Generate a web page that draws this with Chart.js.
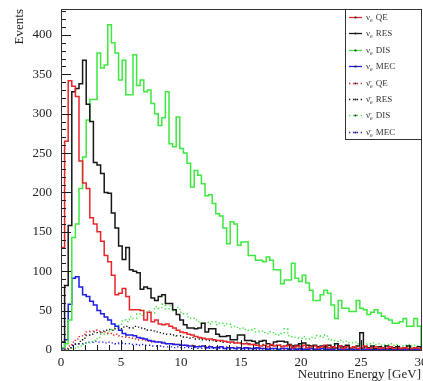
<!DOCTYPE html>
<html>
<head>
<meta charset="utf-8">
<script src="https://cdn.jsdelivr.net/npm/chart.js@4.4.1/dist/chart.umd.min.js"></script>
<style>
  html, body { margin: 0; padding: 0; background: #fff; }
</style>
</head>
<body>
<canvas id="energyChart" width="423" height="381"></canvas>
<script>
// histogram binning: 100 bins of 0.3 GeV from 0 to 30
const nBins = 100;
const binWidth = 0.3;
const xTicks = [0, 5, 10, 15, 20, 25, 30];
const yTicks = [0, 50, 100, 150, 200, 250, 300, 350, 400];
const modes = ['QE', 'RES', 'DIS', 'MEC'];

// nu_e
const nueQE = [
  130, 265, 342, 335, 322, 240, 212, 205, 168, 160,
  150, 138, 120, 112, 95, 70, 72, 78, 68, 51,
  51, 51, 50, 38, 48, 36, 38, 33, 32, 33,
  30, 28, 25, 23, 22, 20, 19, 17, 16, 15,
  14, 14, 13, 12, 12, 11, 10, 10, 9, 9,
  8, 8, 7, 7, 6, 5, 6, 4, 7, 5,
  6, 4, 5, 6, 3, 5, 4, 6, 3, 4,
  5, 3, 4, 6, 3, 4, 3, 5, 2, 4,
  3, 4, 2, 3, 5, 2, 3, 4, 2, 3,
  2, 4, 2, 3, 2, 3, 2, 2, 3, 2
];
const nueRES = [
  10, 82, 158, 328, 332, 338, 368, 312, 290, 238,
  235, 224, 200, 199, 174, 155, 132, 115, 130, 102,
  100, 98, 77, 80, 78, 66, 63, 68, 70, 59,
  59, 51, 45, 38, 32, 28, 28, 27, 28, 34,
  23, 27, 27, 20, 17, 17, 18, 13, 13, 19,
  19, 12, 12, 11, 9, 11, 12, 8, 6, 10,
  11, 11, 10, 7, 5, 6, 8, 9, 6, 5,
  6, 4, 5, 4, 6, 3, 8, 5, 4, 6,
  3, 4, 5, 22, 4, 3, 5, 2, 4, 3,
  5, 2, 3, 4, 2, 3, 5, 2, 3, 4
];
const nueDIS = [
  3, 8, 38, 143, 160, 205, 245, 292, 318, 318,
  377, 358, 362, 413, 390, 377, 343, 368, 324, 324,
  375, 336, 343, 328, 330, 313, 300, 285, 295, 328,
  262, 258, 296, 256, 250, 237, 207, 228, 222, 211,
  196, 197, 186, 173, 170, 155, 135, 163, 160, 133,
  137, 137, 120, 120, 114, 114, 112, 118, 114, 102,
  102, 84, 89, 89, 110, 91, 87, 95, 85, 76,
  63, 63, 70, 76, 72, 57, 40, 63, 53, 53,
  49, 49, 63, 53, 51, 45, 48, 51, 47, 43,
  40, 38, 34, 34, 36, 40, 30, 30, 40, 30
];
const nueMEC = [
  2, 13, 58, 91, 93, 80, 70, 68, 62, 57,
  50, 46, 42, 38, 33, 30, 25, 21, 19, 19,
  18, 16, 15, 14, 12, 11, 10, 10, 9, 8,
  8, 7, 7, 6, 6, 5, 5, 4, 4, 5,
  3, 4, 3, 3, 4, 2, 3, 3, 2, 3,
  2, 3, 2, 2, 3, 2, 2, 1, 2, 2,
  1, 2, 2, 1, 2, 1, 2, 1, 1, 2,
  1, 1, 2, 1, 1, 1, 2, 1, 1, 1,
  1, 1, 1, 2, 1, 1, 1, 1, 1, 1,
  1, 1, 1, 1, 1, 1, 1, 1, 1, 1
];

// anti nu_e
const anueQE = [
  0, 2, 5, 10, 14, 17, 20, 23, 24, 25,
  24, 22, 23, 21, 19, 20, 18, 17, 16, 15,
  14, 13, 13, 12, 11, 10, 11, 9, 10, 8,
  8, 8, 7, 7, 6, 6, 6, 5, 5, 5,
  4, 5, 4, 4, 3, 4, 3, 3, 4, 3,
  3, 2, 3, 3, 2, 3, 2, 2, 3, 2,
  2, 2, 1, 2, 2, 1, 2, 2, 1, 2,
  1, 2, 1, 1, 2, 1, 1, 2, 1, 1,
  1, 1, 2, 1, 1, 1, 1, 1, 1, 1,
  1, 1, 1, 1, 1, 1, 1, 1, 1, 1
];
const anueRES = [
  0, 1, 3, 5, 8, 11, 15, 19, 20, 23,
  22, 24, 25, 26, 25, 28, 27, 29, 30, 28,
  30, 29, 28, 27, 25, 24, 23, 22, 21, 20,
  20, 19, 18, 18, 16, 15, 16, 14, 14, 13,
  13, 12, 12, 11, 11, 10, 10, 9, 10, 9,
  8, 9, 8, 7, 8, 7, 7, 6, 7, 6,
  6, 5, 6, 5, 5, 4, 5, 4, 5, 4,
  4, 4, 3, 4, 3, 4, 3, 3, 4, 3,
  3, 3, 2, 3, 3, 2, 3, 2, 2, 3,
  2, 2, 3, 2, 2, 2, 2, 2, 2, 2
];
const anueDIS = [
  0, 0, 1, 2, 4, 5, 7, 9, 11, 12,
  16, 20, 21, 24, 26, 30, 33, 38, 36, 42,
  40, 46, 44, 48, 50, 47, 55, 53, 58, 52,
  56, 50, 54, 48, 46, 42, 40, 38, 36, 34,
  35, 33, 36, 32, 34, 31, 33, 29, 30, 27,
  28, 26, 25, 27, 23, 24, 22, 21, 23, 20,
  19, 21, 27, 18, 17, 16, 15, 17, 14, 16,
  15, 18, 16, 19, 14, 13, 11, 12, 10, 11,
  9, 10, 8, 9, 7, 8, 9, 7, 8, 6,
  7, 8, 6, 7, 5, 6, 7, 5, 6, 5
];
const anueMEC = [
  0, 1, 3, 6, 8, 8, 9, 10, 10, 11,
  10, 10, 9, 10, 9, 8, 9, 8, 8, 7,
  7, 6, 7, 6, 6, 5, 5, 5, 4, 4,
  4, 3, 4, 3, 3, 3, 2, 3, 2, 2,
  2, 2, 2, 1, 2, 2, 1, 2, 1, 1,
  1, 1, 1, 1, 1, 0, 1, 1, 1, 0,
  1, 1, 0, 1, 0, 1, 1, 0, 1, 0,
  0, 1, 0, 0, 1, 0, 0, 1, 0, 0,
  0, 0, 1, 0, 0, 0, 1, 0, 0, 0,
  0, 0, 0, 1, 0, 0, 0, 0, 0, 0
];

const RED = '#e8262a', BLACK = '#161616', GREEN = '#3ee83e', BLUE = '#1c1ce6';
const SERIF = '"Liberation Serif", "DejaVu Serif", serif';

// turn bin contents into step outline points (left edge of every bin + closing edges)
function histPoints(values) {
  const pts = [{x: 0, y: 0}];
  values.forEach((v, i) => pts.push({x: i * binWidth, y: v}));
  pts.push({x: nBins * binWidth, y: values[values.length - 1]});
  pts.push({x: nBins * binWidth, y: 0});
  return pts;
}

function makeSet(values, color, anti, mode, dotted) {
  return {
    label: (anti ? 'ν̄' : 'ν') + 'e ' + mode,
    symbol: anti ? 'ν̄' : 'ν',
    mode: mode,
    data: histPoints(values),
    borderColor: color,
    borderWidth: dotted ? 1.4 : 1.5,
    borderDash: dotted ? [1.3, 2.6] : [],
    stepped: 'before',
    pointRadius: 0,
    fill: false
  };
}

// inward ticks and the frame, ROOT style
const rootFrame = {
  id: 'rootFrame',
  afterDatasetsDraw(chart) {
    const {ctx, chartArea: a, scales: {x, y}} = chart;
    ctx.save();
    ctx.strokeStyle = '#1a1a1a';
    ctx.lineWidth = 1;
    ctx.beginPath();
    for (let v = 0; v <= 30; v += 1) {
      const px = Math.round(x.getPixelForValue(v)) + 0.5;
      const len = v % 5 === 0 ? 10 : 5;
      ctx.moveTo(px, a.bottom);
      ctx.lineTo(px, a.bottom - len);
    }
    for (let v = 0; v <= 430; v += 10) {
      const py = Math.round(y.getPixelForValue(v)) + 0.5;
      const len = v % 50 === 0 ? 10 : 5;
      ctx.moveTo(a.left, py);
      ctx.lineTo(a.left + len, py);
    }
    ctx.stroke();
    ctx.strokeStyle = '#333';
    ctx.strokeRect(a.left + 0.5, a.top + 0.5, a.right - a.left, a.bottom - a.top);
    ctx.restore();
  }
};

// boxed legend in the top right corner
const rootLegend = {
  id: 'rootLegend',
  afterDraw(chart) {
    const {ctx, chartArea: a} = chart;
    const left = 345, top = a.top, right = a.right + 1, bottom = 139;
    ctx.save();
    ctx.fillStyle = '#fff';
    ctx.fillRect(left, top, right - left, bottom - top);
    ctx.strokeStyle = '#333';
    ctx.lineWidth = 1;
    ctx.strokeRect(left + 0.5, top + 0.5, right - left - 1, bottom - top);
    chart.data.datasets.forEach((ds, i) => {
      const yy = Math.round(top + 8 + i * 16.4) + 0.5;
      ctx.strokeStyle = ds.borderColor;
      ctx.lineWidth = 1.3;
      ctx.setLineDash(ds.borderDash);
      ctx.beginPath();
      ctx.moveTo(349, yy);
      ctx.lineTo(362, yy);
      ctx.stroke();
      ctx.setLineDash([]);
      ctx.fillStyle = '#222';
      ctx.beginPath();
      ctx.arc(355.5, yy, 1.1, 0, Math.PI * 2);
      ctx.fill();
      ctx.fillStyle = '#333';
      ctx.textBaseline = 'middle';
      ctx.font = '9px ' + SERIF;
      ctx.fillText(ds.symbol, 366, yy);
      let tx = 366 + ctx.measureText('ν').width;
      ctx.font = '6px ' + SERIF;
      ctx.fillText('e', tx, yy + 2.5);
      tx += ctx.measureText('e').width + 3;
      ctx.font = '9px ' + SERIF;
      ctx.fillText(ds.mode, tx, yy);
    });
    ctx.restore();
  }
};

new Chart(document.getElementById('energyChart'), {
  type: 'line',
  data: {
    datasets: [
      makeSet(nueQE, RED, false, modes[0], false),
      makeSet(nueRES, BLACK, false, modes[1], false),
      makeSet(nueDIS, GREEN, false, modes[2], false),
      makeSet(nueMEC, BLUE, false, modes[3], false),
      makeSet(anueQE, RED, true, modes[0], true),
      makeSet(anueRES, BLACK, true, modes[1], true),
      makeSet(anueDIS, GREEN, true, modes[2], true),
      makeSet(anueMEC, BLUE, true, modes[3], true)
    ]
  },
  options: {
    responsive: false,
    animation: false,
    devicePixelRatio: 1,
    layout: { padding: { left: 0, top: 9, right: 2, bottom: 0 } },
    plugins: { legend: { display: false }, tooltip: { enabled: false } },
    scales: {
      x: {
        type: 'linear',
        min: 0,
        max: 30,
        grid: { display: false, drawTicks: false },
        border: { display: false },
        afterBuildTicks: s => { s.ticks = xTicks.map(v => ({value: v})); },
        afterFit: s => { s.height = 31; s.paddingLeft = 0; s.paddingRight = 0; },
        ticks: { color: '#222', font: { family: SERIF, size: 13 }, padding: 5, maxRotation: 0 },
        title: {
          display: true, text: 'Neutrino Energy [GeV]', align: 'end', color: '#222',
          font: { family: SERIF, size: 13, lineHeight: 1 }, padding: { top: 0, bottom: 0 }
        }
      },
      y: {
        min: 0,
        max: 433,
        grid: { display: false, drawTicks: false },
        border: { display: false },
        afterBuildTicks: s => { s.ticks = yTicks.map(v => ({value: v})); },
        afterFit: s => { s.width = 61; s.paddingTop = 0; s.paddingBottom = 0; },
        ticks: { color: '#222', font: { family: SERIF, size: 13 }, padding: 9 },
        title: {
          display: true, text: 'Events', align: 'end', color: '#222',
          font: { family: SERIF, size: 13, lineHeight: 1 }, padding: { top: 13, bottom: 0 }
        }
      }
    }
  },
  plugins: [rootFrame, rootLegend]
});
</script>
</body>
</html>
